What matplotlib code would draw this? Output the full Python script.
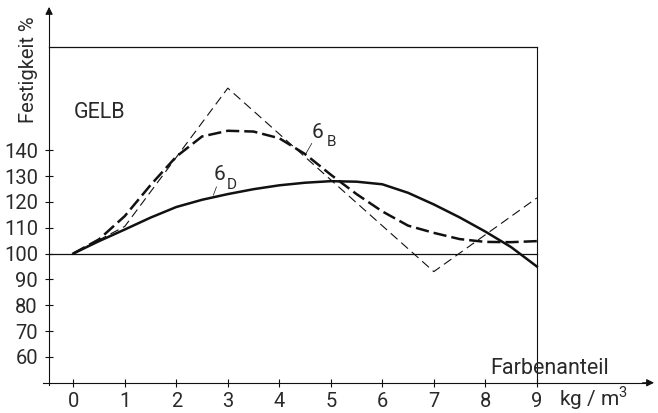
import matplotlib
matplotlib.use("Agg")
import matplotlib.pyplot as plt

plt.rcParams['font.family'] = ['Roboto', 'DejaVu Sans']
plt.rcParams['font.weight'] = 'normal'
plt.rcParams['lines.scale_dashes'] = False
plt.rcParams['mathtext.fontset'] = 'custom'
plt.rcParams['mathtext.rm'] = 'Roboto'

# ---- data ----
x_half = [0, 0.5, 1, 1.5, 2, 2.5, 3, 3.5, 4, 4.5, 5, 5.5, 6, 6.5, 7, 7.5, 8, 8.5, 9]
sigma_D = [100, 104.8, 109.3, 113.9, 118, 120.8, 123, 124.9, 126.4, 127.4, 128,
           127.8, 126.8, 123.5, 119, 114, 108.5, 102.5, 95]
sigma_B = [100, 105.5, 114.5, 126.5, 137.5, 145.3, 147.5, 147.2, 144.6, 138.5, 130.5,
           123, 116.3, 110.8, 108, 105.6, 104.5, 104.4, 104.8]
zig_x = [0, 1, 3, 7, 9]
zig_y = [100, 110.5, 164, 93, 121.5]

x_ticks = [0, 1, 2, 3, 4, 5, 6, 7, 8, 9]
y_ticks = [60, 70, 80, 90, 100, 110, 120, 130, 140]

ink = '#111111'
txt = '#2a2a2a'

fig = plt.figure(figsize=(6.58, 4.13), dpi=100)
ax = fig.add_axes([0, 0, 1, 1])
ax.set_xlim(-1.423, 11.353)
ax.set_ylim(38.3, 198.1)
ax.patch.set_visible(False)

for s in ['top', 'right']:
    ax.spines[s].set_visible(False)
ax.spines['left'].set_position(('data', -0.47))
ax.spines['bottom'].set_position(('data', 50))
ax.spines['left'].set_bounds(49, 194)
ax.spines['bottom'].set_bounds(-0.58, 11.1)
for s in ['left', 'bottom']:
    ax.spines[s].set_linewidth(0.8)
    ax.spines[s].set_color(ink)

ax.set_xticks(x_ticks)
ax.set_yticks(y_ticks)
ax.tick_params(axis='both', direction='inout', length=6, width=0.8, colors=ink,
               labelcolor=txt, labelsize=14.5)
ax.tick_params(axis='y', pad=5)
ax.tick_params(axis='x', pad=4)

# axis arrows
ax.annotate('', xy=(11.33, 50), xytext=(11.0, 50),
            arrowprops=dict(arrowstyle='-|>', color=ink, lw=0.8, mutation_scale=11))
ax.annotate('', xy=(-0.47, 196.5), xytext=(-0.47, 192),
            arrowprops=dict(arrowstyle='-|>', color=ink, lw=0.8, mutation_scale=11))

# frame lines
ax.plot([-0.47, 9], [180, 180], color=ink, lw=0.9)
ax.plot([9, 9], [50, 180], color=ink, lw=0.8)
ax.plot([-0.47, 9], [100, 100], color=ink, lw=0.9)

# curves
ax.plot(zig_x, zig_y, color=ink, lw=0.8, dashes=[6.5, 3.6])
ax.plot(x_half, sigma_B, color=ink, lw=1.8, dashes=[9.5, 3.6])
ax.plot(x_half, sigma_D, color=ink, lw=1.8)

# leader lines
ax.plot([4.63, 4.50], [142.6, 138.1], color=ink, lw=0.5)
ax.plot([2.78, 2.72], [125.8, 122.6], color=ink, lw=0.5)

# labels
ax.text(4.74, 146.8, '6', fontsize=15, color=txt, ha='center', va='center')
ax.text(5.02, 143.1, 'B', fontsize=11, color=txt, ha='center', va='center')
ax.text(2.83, 130.4, '6', fontsize=15, color=txt, ha='center', va='center')
ax.text(3.08, 126.5, 'D', fontsize=11, color=txt, ha='center', va='center')

fig.text(99.5 / 658, 1 - 113 / 413, 'GELB', fontsize=15.5, color=txt,
         ha='center', va='center')
fig.text(28 / 658, 1 - 70 / 413, 'Festigkeit %', fontsize=14.5, color=txt,
         rotation=90, ha='center', va='center')
fig.text(550 / 658, 1 - 368 / 413, 'Farbenanteil', fontsize=15.5, color=txt,
         ha='center', va='center')
fig.text(594 / 658, 1 - 398 / 413, r'kg / m$^{3}$', fontsize=15, color=txt,
         ha='center', va='center')

fig.savefig('out.png', dpi=100)
